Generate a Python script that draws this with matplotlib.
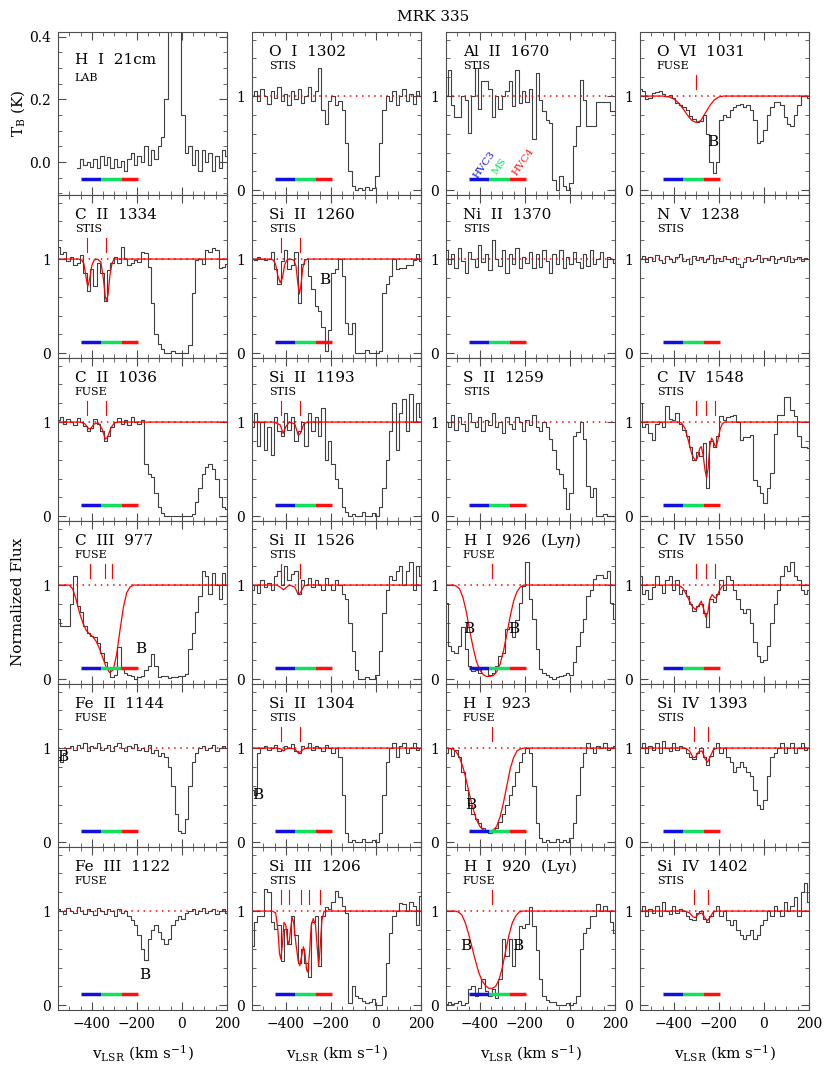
import numpy as np
import matplotlib
matplotlib.use("Agg")
import matplotlib.pyplot as plt
from matplotlib.ticker import MultipleLocator, FormatStrFormatter

plt.rcParams['font.family'] = ['DejaVu Serif']
plt.rcParams['mathtext.fontset'] = 'dejavuserif'

# velocity bins (km/s), 15 km/s wide
vel = np.arange(-550, 201, 15)
nan = np.nan

# ---- spectra ----
hi21 = [nan, nan, nan, nan, nan, nan, -0.02, 0.01, -0.01, 0.0,
        -0.015, 0.01, -0.02, 0.02, -0.01, 0.015, -0.02, 0.01, -0.015, 0.005,
        -0.03, 0.01, 0.03, -0.01, 0.02, 0.0, 0.05, -0.01, 0.04, 0.01,
        0.05, 0.08, 0.2, 0.5, 0.6, 0.6, 0.6, 0.15, 0.03, 0.05,
        -0.01, 0.04, -0.03, 0.04, 0.0, 0.03, -0.03, 0.02, -0.02, 0.04,
        0.02]
oi1302 = [1.0, 1.05, 0.95, 1.08, 1.0, 0.92, 1.05, 0.98, 1.1, 0.95,
          1.02, 0.9, 1.05, 0.97, 1.08, 0.93, 1.0, 1.1, 0.95, 1.05,
          1.3, 0.85, 0.7, 0.95, 1.0, 0.9, 0.95, 0.85, 0.5, 0.2,
          0.05, 0.0, 0.02, 0.0, 0.03, 0.0, 0.02, 0.15, 0.5, 0.85,
          1.0, 0.95, 1.05, 0.9, 1.0, 1.08, 0.95, 1.02, 0.92, 1.05,
          1.0]
al1670 = [1.0, 1.28, 0.91, 0.78, 0.78, 1.0, 0.96, 0.61, 1.0, 1.3,
          0.86, 1.16, 1.16, 1.07, 0.78, 1.0, 0.86, 1.0, 1.05, 1.16,
          0.89, 1.28, 0.93, 1.05, 0.94, 1.07, 0.54, 1.24, 0.96, 0.84,
          0.75, 0.71, 0.11, 0.0, 0.15, 0.05, 0.0, 0.08, 0.47, 0.68,
          1.17, 0.96, 0.68, 0.68, 0.68, 0.94, 0.94, 0.94, 0.94, 0.84,
          0.84]
ovi1031 = [1.07, 1.05, 0.97, 0.98, 1.03, 1.04, 1.05, 1.02, 1.0, 1.01,
           0.98, 0.93, 0.9, 0.88, 0.85, 0.79, 0.76, 0.72, 0.74, 0.8,
           0.6, 0.3, 0.18, 0.3, 0.75, 0.8, 0.78, 0.85, 0.88, 0.9,
           0.92, 0.88, 0.9, 0.85, 0.75, 0.5, 0.52, 0.64, 0.8, 0.88,
           0.94, 0.94, 0.9, 0.78, 0.7, 0.68, 0.8, 0.9, 1.0, 1.0,
           0.98]
cii1334 = [1.13, 1.05, 1.08, 0.98, 1.02, 0.94, 0.96, 1.04, 0.85, 0.66,
           0.89, 0.71, 0.96, 0.85, 0.55, 0.88, 0.96, 1.02, 0.96, 1.13,
           1.0, 0.94, 0.96, 0.99, 0.97, 1.08, 1.06, 0.92, 0.53, 0.21,
           0.1, 0.05, 0.0, 0.0, 0.02, 0.0, 0.0, 0.0, 0.0, 0.09,
           0.64, 0.99, 1.0, 0.95, 1.1, 1.08, 1.12, 1.1, 0.9, 0.92,
           0.95]
sii1260 = [1.0, 0.99, 1.02, 1.0, 0.99, 1.0, 1.08, 0.89, 0.74, 0.98,
           1.1, 0.89, 0.94, 1.08, 0.53, 0.95, 1.0, 0.82, 0.68, 0.5,
           0.45, 0.28, 0.02, 0.25, 0.85, 0.89, 1.0, 0.82, 0.32, 0.21,
           0.32, 0.0, 0.0, 0.0, 0.03, 0.0, 0.0, 0.0, 0.02, 0.64,
           0.74, 0.82, 1.0, 0.89, 0.9, 0.91, 0.94, 0.94, 0.99, 1.05,
           0.98]
nii1370 = [1.1, 0.95, 1.05, 0.9, 1.12, 0.98, 0.85, 1.08, 1.0, 0.92,
           1.15, 0.97, 1.05, 0.88, 1.2, 1.0, 0.93, 1.1, 0.85, 1.05,
           0.95, 1.12, 0.9, 1.02, 0.96, 1.08, 0.9, 1.05, 0.92, 1.1,
           0.98, 0.85, 1.05, 0.95, 1.1, 0.9, 1.02, 0.95, 1.08, 0.97,
           0.9, 1.05, 0.93, 1.1, 0.95, 1.0, 1.08, 0.92, 1.02, 1.0,
           0.96]
nv1238 = [1.0, 1.03, 0.97, 1.02, 0.98, 1.04, 0.99, 0.96, 1.03, 1.0,
          0.97, 1.02, 1.05, 0.98, 1.0, 0.95, 1.03, 0.99, 1.02, 0.97,
          1.0, 1.04, 0.96, 1.01, 0.98, 1.03, 1.0, 0.97, 1.02, 0.95,
          0.92, 0.97, 1.02, 0.98, 1.0, 1.04, 0.97, 1.01, 0.99, 1.03,
          0.96, 1.0, 1.02, 0.98, 1.03, 0.97, 1.0, 1.02, 0.98, 1.01,
          1.0]
cii1036 = [1.02, 1.05, 0.98, 1.03, 1.0, 0.97, 1.04, 1.0, 0.96, 0.9,
           0.94, 1.03, 0.98, 0.9, 0.8, 0.85, 0.95, 1.0, 1.04, 0.98,
           1.02, 0.97, 1.05, 1.0, 0.98, 1.02, 0.55, 0.45, 0.42, 0.25,
           0.1, 0.03, 0.0, 0.0, 0.0, 0.0, 0.0, 0.0, 0.0, 0.0,
           0.02, 0.15, 0.3, 0.45, 0.52, 0.56, 0.5, 0.4, 0.2, 0.1,
           0.08]
sii1193 = [0.95, 1.1, 0.75, 1.0, 0.7, 0.95, 0.65, 1.05, 0.9, 0.85,
           1.1, 0.92, 1.05, 0.8, 0.9, 1.0, 0.75, 1.1, 0.9, 1.05,
           0.85, 1.15, 0.6, 0.8, 0.55, 0.4, 0.3, 0.1, 0.05, 0.0,
           0.02, 0.0, 0.0, 0.05, 0.0, 0.0, 0.03, 0.0, 0.1, 0.3,
           0.6, 0.9, 1.2, 0.7, 1.1, 1.25, 0.9, 1.3, 1.0, 1.2,
           1.05]
s1259 = [1.0, 0.95, 1.08, 0.92, 1.05, 0.98, 0.9, 1.1, 1.0, 0.95,
         1.05, 0.9, 1.02, 0.97, 1.1, 0.95, 1.0, 0.88, 1.05, 0.98,
         0.93, 1.05, 1.0, 0.9, 1.02, 0.97, 1.08, 0.95, 0.9, 1.0,
         0.95, 0.82, 0.7, 0.5, 0.45, 0.3, 0.08, 0.25, 0.85, 0.89,
         1.0, 0.82, 0.32, 0.21, 0.3, 0.0, 0.0, 0.02, 0.0, 0.0,
         0.0]
civ1548 = [1.2, 0.95, 0.98, 0.88, 0.81, 0.98, 1.0, 0.95, 1.17, 1.03,
           1.02, 1.1, 0.98, 0.92, 0.85, 0.74, 0.6, 0.68, 0.64, 0.78,
           0.3, 0.8, 0.74, 0.85, 1.06, 1.02, 1.05, 1.06, 1.08, 1.0,
           0.81, 0.84, 0.84, 0.86, 0.39, 0.32, 0.25, 0.14, 0.3, 0.46,
           0.87, 1.08, 1.08, 1.27, 1.27, 1.13, 1.06, 0.85, 0.74, 0.74,
           0.72]
ciii977 = [0.64, 0.57, 0.57, 0.57, 0.8, 1.1, 0.78, 0.71, 0.57, 0.49,
           0.46, 0.45, 0.39, 0.28, 0.18, 0.11, 0.02, 0.05, 0.34, 0.11,
           0.07, 0.05, 0.04, 0.0, 0.02, 0.04, 0.1, 0.14, 0.27, 0.14,
           0.02, 0.04, 0.04, 0.01, 0.02, 0.02, 0.03, 0.04, 0.06, 0.32,
           0.49, 0.71, 0.88, 1.15, 1.1, 0.9, 1.13, 1.0, 0.85, 1.13,
           1.0]
sii1526 = [0.95, 1.0, 0.92, 1.05, 0.98, 1.02, 0.95, 1.1, 1.15, 1.0,
           1.2, 1.05, 1.12, 1.15, 0.9, 1.05, 1.0, 1.08, 0.98, 1.05,
           1.0, 0.95, 1.08, 1.0, 0.95, 1.05, 1.0, 0.9, 0.85, 0.6,
           0.3, 0.1, 0.0, 0.0, 0.02, 0.0, 0.0, 0.05, 0.3, 0.7,
           0.95, 1.1, 1.05, 1.15, 1.2, 1.0, 1.15, 1.25, 0.95, 1.2,
           1.1]
hi926 = [0.81, 0.35, 0.3, 0.28, 0.35, 0.55, 0.32, 0.14, 0.09, 0.1,
         0.07, 0.11, 0.12, 0.05, 0.07, 0.14, 0.25, 0.28, 0.53, 0.56,
         0.45, 0.63, 0.81, 0.99, 1.25, 0.85, 0.64, 0.32, 0.11, 0.07,
         0.05, 0.02, 0.0, 0.02, 0.04, 0.05, 0.07, 0.05, 0.18, 0.35,
         0.5, 0.64, 0.88, 0.95, 1.06, 1.11, 1.11, 1.08, 1.15, 0.81,
         0.64]
civ1550 = [1.1, 0.9, 0.95, 0.85, 0.98, 1.1, 1.0, 0.92, 1.05, 1.1,
           0.95, 1.05, 0.9, 0.95, 0.88, 0.8, 0.72, 0.78, 0.8, 0.7,
           0.55, 0.85, 0.82, 0.9, 1.05, 0.95, 1.1, 1.05, 0.95, 0.85,
           0.75, 0.7, 0.75, 0.6, 0.4, 0.25, 0.18, 0.2, 0.35, 0.6,
           0.8, 0.95, 1.1, 1.2, 1.15, 1.25, 1.1, 1.05, 0.95, 0.9,
           0.95]
feii1144 = [0.9, 0.85, 0.95, 1.0, 1.02, 0.98, 1.03, 1.0, 1.05, 0.97,
            1.02, 1.0, 1.05, 0.98, 1.0, 1.03, 0.97, 1.02, 1.05, 1.0,
            0.97, 1.02, 1.0, 1.04, 0.98, 1.0, 0.97, 1.03, 0.95, 0.98,
            0.92, 0.95, 0.9, 0.8, 0.6, 0.3, 0.12, 0.1, 0.25, 0.6,
            0.85, 0.95, 1.0, 1.02, 0.98, 1.0, 1.03, 0.97, 1.0, 1.02,
            1.0]
sii1304 = [0.55, 0.5, 0.95, 1.0, 1.02, 0.98, 1.0, 1.03, 0.97, 0.98,
           1.02, 1.0, 1.04, 0.97, 0.95, 1.02, 1.0, 1.05, 0.98, 1.02,
           1.0, 0.97, 1.03, 1.0, 0.95, 1.0, 0.9, 0.5, 0.1, 0.0,
           0.02, 0.0, 0.0, 0.03, 0.0, 0.0, 0.02, 0.0, 0.1, 0.5,
           0.85, 1.0, 1.05, 0.9, 1.02, 1.05, 0.95, 1.0, 1.05, 0.98,
           1.0]
hi923 = [0.95, 1.0, 0.92, 0.98, 0.9, 0.75, 0.55, 0.4, 0.3, 0.25,
         0.2, 0.15, 0.12, 0.1, 0.12, 0.15, 0.22, 0.3, 0.4, 0.5,
         0.6, 0.75, 0.85, 0.95, 1.0, 0.95, 0.6, 0.2, 0.05, 0.0,
         0.02, 0.0, 0.0, 0.03, 0.0, 0.02, 0.0, 0.05, 0.2, 0.5,
         0.8, 0.95, 1.05, 1.0, 0.95, 1.02, 1.0, 1.05, 0.98, 1.0,
         1.02]
siiv1393 = [1.0, 1.05, 0.95, 1.02, 0.98, 1.05, 0.95, 1.08, 1.0, 0.97,
            1.05, 0.98, 1.02, 1.0, 0.95, 0.9, 0.88, 0.95, 1.0, 0.9,
            0.82, 0.92, 1.0, 1.05, 0.95, 1.0, 0.9, 0.85, 0.75, 0.8,
            0.85, 0.8, 0.75, 0.7, 0.55, 0.4, 0.35, 0.45, 0.7, 0.9,
            0.95, 1.0, 1.05, 0.95, 1.0, 1.05, 0.95, 1.0, 1.05, 0.98,
            1.0]
feiii1122 = [1.02, 1.0, 0.97, 1.03, 1.0, 0.98, 1.04, 1.0, 0.97, 1.02,
             1.0, 0.96, 1.03, 1.0, 0.97, 1.02, 1.0, 0.95, 1.02, 0.98,
             1.0, 0.95, 0.9, 0.85, 0.75, 0.6, 0.48, 0.7, 0.8, 0.85,
             0.78, 0.7, 0.65, 0.7, 0.85, 0.9, 0.95, 0.92, 0.98, 1.0,
             1.02, 0.97, 1.0, 1.03, 0.98, 1.0, 1.02, 0.97, 1.0, 1.02,
             0.98]
siiii1206 = [0.63, 0.88, 0.95, 0.95, 1.23, 1.2, 0.88, 0.81, 0.85, 0.47,
             0.81, 0.65, 0.95, 0.75, 0.45, 0.6, 0.45, 0.3, 0.88, 0.95,
             0.42, 0.95, 1.04, 1.02, 1.1, 1.21, 1.15, 1.05, 0.98, 0.02,
             0.21, 0.1, 0.08, 0.05, 0.02, 0.04, 0.07, 0.0, 0.0, 0.1,
             0.45, 0.77, 0.95, 1.0, 1.09, 1.07, 1.0, 1.1, 1.05, 0.85,
             1.16]
hi920 = [0.01, 0.03, 0.01, 0.02, 0.05, 0.0, 0.02, 0.17, 0.2, 0.1,
         0.18, 0.28, 0.15, 0.1, 0.17, 0.08, 0.28, 0.7, 0.52, 0.7,
         0.42, 0.6, 0.84, 0.82, 0.86, 1.04, 0.84, 0.59, 0.28, 0.1,
         0.06, 0.03, 0.04, 0.0, 0.0, 0.0, 0.02, 0.0, 0.02, 0.1,
         0.6, 0.77, 0.82, 0.95, 0.95, 1.07, 1.0, 1.05, 1.0, 0.88,
         0.77]
siiv1402 = [1.0, 1.05, 0.95, 1.02, 0.98, 1.05, 0.95, 1.1, 1.0, 0.97,
            1.05, 0.98, 1.02, 1.0, 0.95, 0.92, 0.9, 0.98, 1.0, 0.92,
            0.88, 0.95, 1.0, 1.05, 0.95, 1.0, 0.9, 0.85, 0.9, 0.8,
            0.75, 0.7, 0.75, 0.8, 0.7, 0.75, 0.85, 0.9, 1.0, 0.95,
            1.05, 1.0, 0.95, 1.1, 1.0, 1.05, 1.15, 0.95, 1.2, 1.3,
            1.1]

# ---- component fits (velocity, model flux) ----
ovi_mv = [-550, -450, -420, -400, -380, -360, -340, -320, -300, -280, -260, -240, -220, -200, -180, 200]
ovi_mf = [1.0, 1.0, 0.99, 0.97, 0.93, 0.87, 0.8, 0.74, 0.72, 0.74, 0.82, 0.9, 0.96, 0.99, 1.0, 1.0]
cii1334_mv = [-550, -460, -445, -435, -425, -418, -410, -400, -390, -375, -360, -350, -340, -335, -328, -320, -310, -300, 200]
cii1334_mf = [1.0, 1.0, 0.99, 0.95, 0.8, 0.71, 0.78, 0.93, 0.99, 1.0, 0.97, 0.82, 0.6, 0.56, 0.62, 0.82, 0.96, 1.0, 1.0]
sii1260_mv = [-550, -470, -455, -445, -435, -425, -415, -405, -395, -380, -365, -355, -347, -340, -333, -325, -315, -300, 200]
sii1260_mf = [1.0, 1.0, 0.99, 0.94, 0.82, 0.75, 0.8, 0.94, 0.99, 1.0, 0.99, 0.93, 0.75, 0.63, 0.72, 0.9, 0.99, 1.0, 1.0]
cii1036_mv = [-550, -450, -430, -415, -405, -390, -370, -355, -340, -330, -315, -300, -285, 200]
cii1036_mf = [1.0, 1.0, 0.98, 0.93, 0.93, 0.98, 0.99, 0.93, 0.82, 0.84, 0.94, 0.99, 1.0, 1.0]
sii1193_mv = [-550, -450, -425, -412, -400, -385, -360, -345, -335, -320, -305, 200]
sii1193_mf = [1.0, 1.0, 0.97, 0.88, 0.95, 1.0, 0.98, 0.86, 0.88, 0.98, 1.0, 1.0]
civ1548_mv = [-550, -380, -365, -350, -335, -320, -305, -295, -285, -278, -270, -262, -255, -248, -240, -232, -225, -218, -212, -205, -195, -185, -175, 200]
civ1548_mf = [1.0, 1.0, 0.99, 0.93, 0.8, 0.66, 0.59, 0.62, 0.72, 0.74, 0.65, 0.5, 0.41, 0.5, 0.75, 0.83, 0.8, 0.75, 0.74, 0.8, 0.92, 0.98, 1.0, 1.0]
ciii_mv = [-550, -500, -485, -470, -455, -440, -425, -410, -395, -380, -365, -350, -335, -320, -305, -290, -275, -260, -245, -230, -215, 200]
ciii_mf = [1.0, 1.0, 0.96, 0.85, 0.71, 0.6, 0.52, 0.48, 0.45, 0.4, 0.32, 0.22, 0.12, 0.07, 0.1, 0.26, 0.52, 0.76, 0.92, 0.98, 1.0, 1.0]
sii1526_mv = [-550, -440, -420, -410, -400, -385, -360, -345, -335, -320, -305, 200]
sii1526_mf = [1.0, 1.0, 0.97, 0.95, 0.97, 1.0, 0.98, 0.9, 0.92, 0.99, 1.0, 1.0]
hi926_mv = [-550, -520, -505, -490, -475, -460, -445, -430, -415, -400, -385, -370, -355, -340, -325, -310, -295, -280, -265, -250, -235, -220, -205, 200]
hi926_mf = [1.0, 1.0, 0.99, 0.96, 0.87, 0.72, 0.52, 0.34, 0.19, 0.1, 0.05, 0.03, 0.03, 0.04, 0.08, 0.16, 0.3, 0.48, 0.67, 0.83, 0.93, 0.98, 1.0, 1.0]
civ1550_mv = [-550, -380, -360, -340, -320, -305, -290, -278, -268, -258, -250, -240, -230, -220, -212, -200, -185, -170, 200]
civ1550_mf = [1.0, 1.0, 0.97, 0.88, 0.78, 0.74, 0.78, 0.83, 0.75, 0.66, 0.7, 0.85, 0.9, 0.87, 0.86, 0.93, 0.99, 1.0, 1.0]
sii1304_mv = [-550, -440, -420, -410, -400, -385, -360, -345, -335, -320, -305, 200]
sii1304_mf = [1.0, 1.0, 0.99, 0.97, 0.99, 1.0, 0.99, 0.95, 0.96, 0.99, 1.0, 1.0]
hi923_mv = [-550, -540, -520, -505, -490, -475, -460, -445, -430, -415, -400, -385, -370, -355, -340, -325, -310, -295, -280, -265, -250, -235, -220, -205, 200]
hi923_mf = [1.0, 1.0, 0.99, 0.96, 0.9, 0.8, 0.66, 0.5, 0.36, 0.24, 0.17, 0.13, 0.12, 0.12, 0.13, 0.17, 0.27, 0.42, 0.6, 0.78, 0.9, 0.97, 0.99, 1.0, 1.0]
siiv1393_mv = [-550, -350, -330, -315, -305, -290, -275, -260, -250, -240, -225, -210, 200]
siiv1393_mf = [1.0, 1.0, 0.97, 0.9, 0.9, 0.96, 0.97, 0.88, 0.85, 0.9, 0.98, 1.0, 1.0]
siiii_mv = [-550, -460, -445, -435, -428, -422, -415, -408, -400, -392, -386, -380, -372, -365, -355, -345, -338, -330, -322, -315, -308, -302, -295, -287, -278, -268, -260, -254, -248, -240, -230, 200]
siiii_mf = [1.0, 1.0, 0.98, 0.8, 0.55, 0.49, 0.65, 0.88, 0.85, 0.68, 0.65, 0.78, 0.93, 0.88, 0.65, 0.47, 0.42, 0.52, 0.62, 0.55, 0.38, 0.35, 0.55, 0.85, 0.92, 0.85, 0.6, 0.42, 0.6, 0.9, 1.0, 1.0]
hi920_mv = [-550, -510, -495, -480, -465, -450, -435, -420, -405, -390, -375, -360, -345, -330, -315, -300, -285, -270, -255, -240, -225, -210, 200]
hi920_mf = [1.0, 1.0, 0.99, 0.96, 0.88, 0.76, 0.62, 0.48, 0.35, 0.26, 0.21, 0.18, 0.18, 0.2, 0.27, 0.4, 0.58, 0.75, 0.88, 0.95, 0.99, 1.0, 1.0]
siiv1402_mv = [-550, -350, -330, -315, -305, -290, -275, -260, -250, -240, -225, -210, 200]
siiv1402_mf = [1.0, 1.0, 0.98, 0.94, 0.93, 0.97, 0.98, 0.92, 0.9, 0.93, 0.99, 1.0, 1.0]

# component velocities (red tick marks)
comp_lowion = [-420, -338]
comp_civ = [-300, -255, -215]
comp_ciii = [-410, -343, -310]
comp_siiii = [-421, -388, -333, -299, -250]
comp_siiv = [-312, -250]
comp_hi = [-346]
comp_ovi = [-300]

# HVC3 / MS / HVC4 velocity ranges and their labels
seg_v = [(-450, -360), (-360, -270), (-270, -195)]
seg_col = ['#1010e0', '#10e060', '#ff1010']
seg_name = ['HVC3', 'MS', 'HVC4']
seg_lab_v = [-380, -312, -208]
seg_lab_y = [0.27, 0.25, 0.30]

# (row, col, label, instrument, flux, model v, model f, components, blends)
panels = [
    (0, 0, 'H  I  21cm', 'LAB', hi21, None, None, [], []),
    (0, 1, 'O  I  1302', 'STIS', oi1302, None, None, [], []),
    (0, 2, 'Al  II  1670', 'STIS', al1670, None, None, [], []),
    (0, 3, 'O  VI  1031', 'FUSE', ovi1031, ovi_mv, ovi_mf, comp_ovi, [(-228, 0.51)]),
    (1, 0, 'C  II  1334', 'STIS', cii1334, cii1334_mv, cii1334_mf, comp_lowion, []),
    (1, 1, 'Si  II  1260', 'STIS', sii1260, sii1260_mv, sii1260_mf, comp_lowion, [(-228, 0.78)]),
    (1, 2, 'Ni  II  1370', 'STIS', nii1370, None, None, [], []),
    (1, 3, 'N  V  1238', 'STIS', nv1238, None, None, [], []),
    (2, 0, 'C  II  1036', 'FUSE', cii1036, cii1036_mv, cii1036_mf, comp_lowion, []),
    (2, 1, 'Si  II  1193', 'STIS', sii1193, sii1193_mv, sii1193_mf, comp_lowion, []),
    (2, 2, 'S  II  1259', 'STIS', s1259, None, None, [], []),
    (2, 3, 'C  IV  1548', 'STIS', civ1548, civ1548_mv, civ1548_mf, comp_civ, []),
    (3, 0, 'C  III  977', 'FUSE', ciii977, ciii_mv, ciii_mf, comp_ciii, [(-185, 0.32)]),
    (3, 1, 'Si  II  1526', 'STIS', sii1526, sii1526_mv, sii1526_mf, comp_lowion, []),
    (3, 2, r'H  I  926  (Ly$\eta$)', 'FUSE', hi926, hi926_mv, hi926_mf, comp_hi, [(-450, 0.53), (-250, 0.53)]),
    (3, 3, 'C  IV  1550', 'STIS', civ1550, civ1550_mv, civ1550_mf, comp_civ, []),
    (4, 0, 'Fe  II  1144', 'FUSE', feii1144, None, None, [], [(-530, 0.9)]),
    (4, 1, 'Si  II  1304', 'STIS', sii1304, sii1304_mv, sii1304_mf, comp_lowion, [(-525, 0.5)]),
    (4, 2, 'H  I  923', 'FUSE', hi923, hi923_mv, hi923_mf, comp_hi, [(-442, 0.4)]),
    (4, 3, 'Si  IV  1393', 'STIS', siiv1393, siiv1393_mv, siiv1393_mf, comp_siiv, []),
    (5, 0, 'Fe  III  1122', 'FUSE', feiii1122, None, None, [], [(-165, 0.32)]),
    (5, 1, 'Si  III  1206', 'STIS', siiii1206, siiii_mv, siiii_mf, comp_siiii, []),
    (5, 2, r'H  I  920  (Ly$\iota$)', 'FUSE', hi920, hi920_mv, hi920_mf, comp_hi, [(-461, 0.63), (-230, 0.63)]),
    (5, 3, 'Si  IV  1402', 'STIS', siiv1402, siiv1402_mv, siiv1402_mf, comp_siiv, []),
]

W, H = 830.0, 1075.0
col_left = [58, 252, 446, 640]
row_top = [32, 195, 358, 521, 684, 847]
pw, ph = 169, 163

fig = plt.figure(figsize=(8.3, 10.75), dpi=100)
gray = '0.3'

for r, c, name, inst, flux, mv, mf, comps, blends in panels:
    ax = fig.add_axes([col_left[c] / W, 1 - (row_top[r] + ph) / H, pw / W, ph / H])
    ax.step(vel, flux, where='mid', color='0.25', lw=0.8)

    if r == 0 and c == 0:
        ax.set_ylim(-0.105, 0.415)
        ax.yaxis.set_major_locator(MultipleLocator(0.2))
        ax.yaxis.set_minor_locator(MultipleLocator(0.05))
        ax.yaxis.set_major_formatter(FormatStrFormatter('%.1f'))
        ybar = -0.053
        ty, iy = 0.83, 0.72
    else:
        ax.set_ylim(-0.05, 1.68)
        ax.yaxis.set_major_locator(MultipleLocator(1))
        ax.yaxis.set_minor_locator(MultipleLocator(0.2))
        ax.yaxis.set_major_formatter(FormatStrFormatter('%d'))
        ax.axhline(1, color='red', ls=(0, (1, 3)), lw=1.1)
        if mv is not None:
            ax.plot(mv, mf, color='red', lw=0.9)
        for v in comps:
            ax.plot([v, v], [1.08, 1.22], color='red', lw=0.8)
        for bv, by in blends:
            ax.text(bv, by, 'B', ha='center', va='center', fontsize=11)
        ybar = 0.12
        ty, iy = 0.88, 0.79

    for (v0, v1), col in zip(seg_v, seg_col):
        ax.plot([v0, v1], [ybar, ybar], color=col, lw=2.5, solid_capstyle='butt')

    if r == 0 and c == 2:
        for lv, ly, col, lab in zip(seg_lab_v, seg_lab_y, seg_col, seg_name):
            ax.text(lv, ly, lab, color=col, rotation=55,
                    fontsize=7.5, ha='center', va='center')

    ax.set_xlim(-550, 200)
    ax.xaxis.set_major_locator(MultipleLocator(200))
    ax.xaxis.set_minor_locator(MultipleLocator(50))
    ax.tick_params(which='both', direction='in', top=True, right=True,
                   labelsize=10, color=gray, pad=5)
    ax.tick_params(which='major', length=6)
    ax.tick_params(which='minor', length=3)
    if r != 5:
        ax.tick_params(labelbottom=False)
    for s in ax.spines.values():
        s.set_color(gray)
        s.set_linewidth(0.8)

    ax.text(0.10, ty, name, transform=ax.transAxes, fontsize=11, va='center')
    ax.text(0.10, iy, inst, transform=ax.transAxes, fontsize=8, va='center')

    if r == 5:
        fig.text((col_left[c] + pw / 2) / W, 1 - 1053 / H,
                 r'v$_{\rm LSR}$ (km s$^{-1}$)', ha='center', va='center', fontsize=11)

fig.text((col_left[0] + col_left[3] + pw) / 2 / W, 1 - 17 / H, 'MRK 335',
         ha='center', va='center', fontsize=11)
fig.text(18 / W, 1 - 602 / H, 'Normalized Flux', rotation=90,
         ha='center', va='center', fontsize=11)
fig.text(18 / W, 1 - 113 / H, r'T$_{\rm B}$ (K)', rotation=90,
         ha='center', va='center', fontsize=11)

fig.savefig('out.png', dpi=100)
